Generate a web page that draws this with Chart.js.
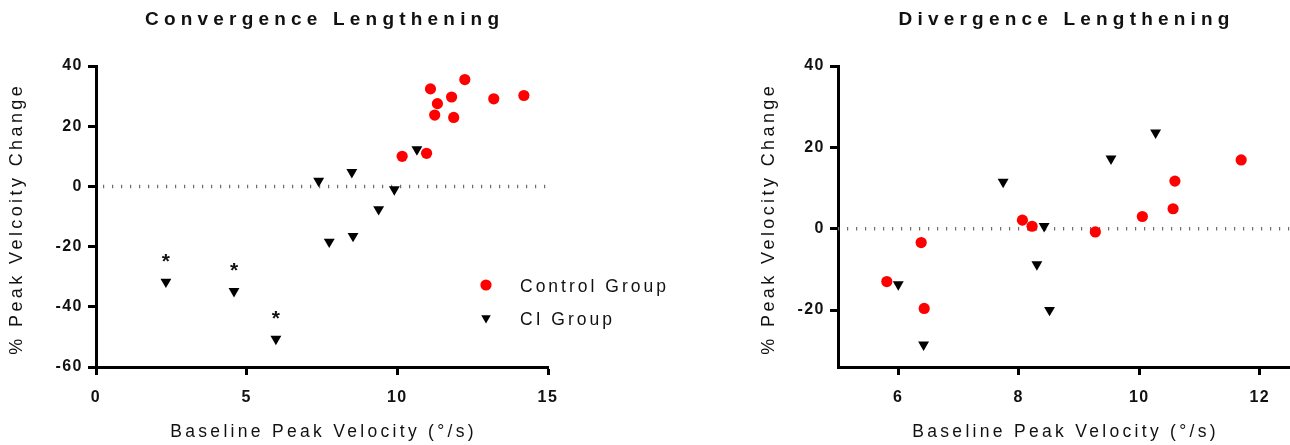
<!DOCTYPE html>
<html>
<head>
<meta charset="utf-8">
<script src="https://cdn.jsdelivr.net/npm/chart.js@4/dist/chart.umd.min.js"></script>
<style>
  html, body { margin: 0; padding: 0; background: #fff; overflow: hidden; width: 1290px; height: 445px; }
  canvas { position: absolute; top: 0; }
  #conv { left: 0; }
  #div { left: 700px; }
</style>
</head>
<body>
<canvas id="conv" width="700" height="445"></canvas>
<canvas id="div" width="650" height="445"></canvas>
<script>
// ---- Convergence lengthening: baseline peak velocity (°/s) vs % change ----
const convControlX = [10.16, 10.97, 11.10, 11.33, 11.24, 11.80, 11.87, 12.24, 13.20, 14.20];
const convControlY = [10.0, 11.0, 32.4, 27.5, 23.7, 29.7, 22.9, 35.5, 29.1, 30.2];
const convCIX = [2.32, 4.58, 5.97, 7.39, 7.74, 8.49, 8.53, 9.38, 9.90, 10.65];
const convCIY = [-31.7, -34.8, -50.7, 1.8, -18.4, 4.7, -16.5, -7.6, -1.0, 12.3];
// CI subjects marked with an asterisk (indices into convCIX / convCIY)
const convStarred = [0, 1, 2];
const convXTicks = [0, 5, 10, 15];
const convYTicks = [-60, -40, -20, 0, 20, 40];

// ---- Divergence lengthening ----
const divControlX = [5.81, 6.38, 6.43, 8.06, 8.22, 9.27, 10.05, 10.56, 10.59, 11.69];
const divControlY = [-13.0, -3.4, -19.6, 2.1, 0.6, -0.8, 3.0, 4.9, 11.7, 16.9];
const divCIX = [6.00, 6.42, 7.74, 8.30, 8.42, 8.51, 9.53, 10.27];
const divCIY = [-13.7, -28.5, 11.5, -8.8, 0.6, -20.0, 17.2, 23.6];
const divXTicks = [6, 8, 10, 12];
const divYTicks = [-20, 0, 20, 40];

const seriesNames = ['Control Group', 'CI Group'];
const FONT = '"Liberation Sans", Arial, Helvetica, sans-serif';

const toPoints = (xs, ys) => xs.map((x, i) => ({ x, y: ys[i] }));

// Titles, axis titles, legend and asterisks, drawn with letter spacing
const decor = {
  id: 'decor',
  beforeDraw(chart) { chart.ctx.letterSpacing = '1.5px'; },
  afterDraw(chart, args, o) {
    const ctx = chart.ctx, a = chart.chartArea;
    const cx = (a.left + a.right) / 2;
    ctx.save();
    ctx.fillStyle = '#111';
    ctx.textBaseline = 'middle';

    // chart title
    ctx.font = 'bold 19px ' + FONT;
    ctx.letterSpacing = '5.2px';
    ctx.textAlign = 'center';
    ctx.fillText(o.title, cx + 2.6, 20);

    // x-axis title
    ctx.font = '17.5px ' + FONT;
    ctx.letterSpacing = '3.3px';
    ctx.fillText('Baseline Peak Velocity (°/s)', cx + 1.6, 432);

    // y-axis title
    ctx.save();
    ctx.translate(o.yTitleX, (a.top + a.bottom) / 2 + 4);
    ctx.rotate(-Math.PI / 2);
    ctx.font = '18px ' + FONT;
    ctx.letterSpacing = '3.4px';
    ctx.fillText(o.yTitle, 1.7, 0);
    ctx.restore();

    // asterisks over flagged points
    if (o.starred) {
      const meta = chart.getDatasetMeta(o.starDataset);
      ctx.font = 'bold 21px ' + FONT;
      ctx.letterSpacing = '0px';
      ctx.textBaseline = 'alphabetic';
      o.starred.forEach(i => {
        const p = meta.data[i];
        ctx.fillText('*', p.x, p.y - 26 + 12);
      });
    }

    // legend
    if (o.legend) {
      const items = [
        { ds: chart.data.datasets[1], y: 285 },
        { ds: chart.data.datasets[0], y: 318 }
      ];
      ctx.font = '17.5px ' + FONT;
      ctx.letterSpacing = '3px';
      ctx.textAlign = 'left';
      ctx.textBaseline = 'middle';
      items.forEach(it => {
        ctx.fillStyle = it.ds.backgroundColor;
        ctx.strokeStyle = it.ds.borderColor;
        ctx.lineWidth = 0;
        Chart.helpers.drawPoint(ctx, {
          pointStyle: it.ds.pointStyle,
          radius: it.ds.pointStyle === 'triangle' ? 5.5 : it.ds.pointRadius,
          rotation: it.ds.rotation || 0,
          borderWidth: 0
        }, o.legend.x, it.y);
        ctx.fillStyle = '#111';
        ctx.fillText(it.ds.label, o.legend.x + 34, it.y + 2);
      });
    }
    ctx.restore();
  }
};

function axisX(min, max, ticks, fitHeight) {
  return {
    type: 'linear', min, max,
    afterBuildTicks: s => { s.ticks = ticks.map(v => ({ value: v })); },
    afterFit: s => { s.height = fitHeight; },
    border: { display: true, width: 3, color: '#000' },
    grid: { display: true, drawOnChartArea: false, drawTicks: true, tickLength: 8, tickWidth: 3, tickColor: '#000' },
    ticks: { color: '#111', font: { family: FONT, size: 16, weight: 'bold' }, padding: 13, maxRotation: 0 }
  };
}
function axisY(min, max, ticks, fitWidth) {
  return {
    type: 'linear', min, max,
    afterBuildTicks: s => { s.ticks = ticks.map(v => ({ value: v })); },
    afterFit: s => { s.width = fitWidth; },
    border: { display: true, width: 3, color: '#000' },
    grid: { display: true, drawOnChartArea: false, drawTicks: true, tickLength: 8, tickWidth: 3, tickColor: '#000' },
    ticks: { color: '#111', font: { family: FONT, size: 16, weight: 'bold' }, padding: 5 }
  };
}

function makeDatasets(cx, cy, ix, iy, xmin, xmax, dashOffset) {
  return [
    {
      type: 'scatter', label: seriesNames[1], data: toPoints(ix, iy), order: 1,
      pointStyle: 'triangle', rotation: 180, pointRadius: 6.3,
      backgroundColor: '#000', borderColor: '#000', borderWidth: 0
    },
    {
      type: 'scatter', label: seriesNames[0], data: toPoints(cx, cy), order: 2,
      pointStyle: 'circle', pointRadius: 5.6,
      backgroundColor: '#ff0000', borderColor: '#ff0000', borderWidth: 0
    },
    {
      type: 'line', label: 'zero', data: [{ x: xmin, y: 0 }, { x: xmax, y: 0 }], order: 3,
      borderColor: '#6e6e6e', borderWidth: 3.5, borderDash: [1.2, 7.8], borderDashOffset: dashOffset,
      pointRadius: 0, fill: false
    }
  ];
}

function baseOptions(padRight, extra) {
  return {
    responsive: false,
    animation: false,
    events: [],
    layout: { padding: { left: 0, top: 66, right: padRight, bottom: 0 } },
    plugins: { legend: { display: false }, tooltip: { enabled: false }, title: { display: false }, decor: extra }
  };
}

// Convergence chart: plot area 96..548 x 66..367
const convOpts = baseOptions(152, {
  title: 'Convergence Lengthening',
  yTitle: '% Peak Velcoity Change',
  yTitleX: 17,
  starred: convStarred,
  starDataset: 0,
  legend: { x: 486 }
});
convOpts.scales = { x: axisX(0, 15, convXTicks, 78), y: axisY(-60, 40, convYTicks, 96) };
new Chart(document.getElementById('conv'), {
  type: 'scatter',
  data: { datasets: makeDatasets(convControlX, convControlY, convCIX, convCIY, 0, 15, 2) },
  options: convOpts,
  plugins: [decor]
});

// Divergence chart: plot area 838..1290 x 66..367 (canvas runs past the window edge)
const divOpts = baseOptions(60, {
  title: 'Divergence Lengthening',
  yTitle: '% Peak Velocity Change',
  yTitleX: 769 - 700
});
divOpts.scales = { x: axisX(5, 12.5, divXTicks, 78), y: axisY(-34, 40, divYTicks, 138) };
new Chart(document.getElementById('div'), {
  type: 'scatter',
  data: { datasets: makeDatasets(divControlX, divControlY, divCIX, divCIY, 5, 12.5, 0) },
  options: divOpts,
  plugins: [decor]
});
</script>
</body>
</html>
